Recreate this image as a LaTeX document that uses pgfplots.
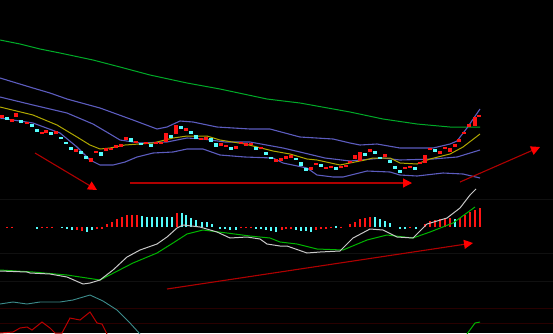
\documentclass[border=0pt]{standalone}
\usepackage{pgfplots}
\pgfplotsset{compat=1.18}
\usepackage{pgfplotstable}
\usetikzlibrary{arrows.meta}

\definecolor{magreen}{RGB}{0,170,40}
\definecolor{band}{RGB}{92,92,190}
\definecolor{mayel}{RGB}{176,168,0}
\definecolor{cred}{RGB}{255,20,20}
\definecolor{ccyan}{RGB}{84,252,252}
\definecolor{difw}{RGB}{200,200,200}
\definecolor{deag}{RGB}{0,180,0}
\definecolor{teal2}{RGB}{60,140,140}
\definecolor{lowred}{RGB}{185,0,0}
\definecolor{arrline}{RGB}{175,0,0}
\definecolor{gridg}{RGB}{16,16,16}
\definecolor{gridr}{RGB}{40,0,0}

% candles: x, top, bottom (pixel rows)
\pgfplotstableread{
x t b
2 115 118
12 119 122
16 113 117
27 122 124
42 132 134
46 130 133
56 131 134
76 149 152
91 158 162
96 151 153
106 148 151
111 148 150
116 145 148
121 144 147
126 137 140
136 141 143
146 142 144
156 142 144
161 142 144
166 133 142
176 125 134
186 128 131
201 138 140
206 137 140
221 143 146
226 145 147
236 146 149
241 142 144
246 143 146
251 143 145
261 147 149
276 159 162
281 158 161
286 156 159
291 155 158
311 167 170
316 163 165
326 167 169
331 166 168
341 166 168
346 165 167
350 160.5 162.5
355 155 159
360 152 161
370 149 152
385 154 157
405 167 169
410 166 168
420 162 164
425 155 163
430 148 150
440 151 154
445 147 149
450 148 152
455 144 147
459 139 142
464 132 134
469 124 127
475 117 126
479 115 117
}\redcandles

\pgfplotstableread{
x t b
7 117 120
21 120 123
32 124 127
37 129 132
51 132 135
61 137 139
66 142 144
71 147 150
81 151 154
86 156 159
101 152 156
131 138 142
141 143 145
151 144 147
171 135 138
181 126 129
191 131 134
196 135 139
211 138 142
216 143 147
231 147 150
256 147 150
266 152 155
271 157 159
296 158 160
301 162 166
306 168 171
321 164 167
336 167 170
365 153 156
375 151 154
380 157 159
390 160 163
395 166 169
400 170 173
415 167 170
435 149 152
}\cyancandles

% MACD histogram: x, top, bottom
\pgfplotstableread{
x t b
7 226.5 228
12 226.5 228
42 226.5 228
47 226.5 228
52 226.5 228
77 227 230
82 227 231
97 227 228.5
102 227 228.5
107 224 227
112 222 227
117 219 227
122 217 227
127 215 227
132 215 227
137 215 227
177 213 227
241 226.5 228
246 226.5 228
251 226.5 228
282 227 230
286 227 229
291 227 228.5
316 227 230
321 227 229
326 227 228.5
331 226.5 228
341 226.5 228
350 224 227
355 222 227
360 219 227
365 218 227
370 217 227
410 226.5 228
425 224 227
430 221 227
435 220 227
440 219 227
445 219 227
450 218 227
460 218 227
465 215 227
470 212 227
475 210 227
480 208 227
}\redbars

\pgfplotstableread{
x t b
37 227 228.5
62 226.5 228
67 227 229
72 227 230
87 227 232
92 227 230
142 216 227
147 217 227
152 217 227
157 217 227
162 217 227
167 217 227
172 217 227
182 213 227
186 215 227
191 218 227
196 220 227
202 222 227
207 222 227
212 224 227
220 227 228.5
225 227 229
230 227 230
236 227 230
256 227 229
261 227 229
266 227 230
271 227 231
276 227 232
296 227 230
301 227 231
306 227 231
311 227 232
336 226 227.5
375 217 227
380 219 227
385 221 227
390 223 227
400 227 228.5
405 227 228.5
416 227 228.5
455 219 227
}\cyanbars

\begin{document}
\begin{tikzpicture}
\begin{axis}[
  scale only axis, width=553pt, height=333pt,
  xmin=0, xmax=553, ymin=0, ymax=333, y dir=reverse,
  axis line style={draw=none}, ticks=none,
  axis background/.style={fill=black},
  clip=true,
]
% faint grid lines
\addplot[gridg, line width=0.8pt] coordinates {(0,199)(553,199)};
\addplot[gridg, line width=0.8pt] coordinates {(0,253)(553,253)};
\addplot[gridg, line width=0.8pt] coordinates {(0,281)(553,281)};
\addplot[gridr, line width=0.8pt] coordinates {(0,308)(553,308)};
\addplot[gridr, line width=0.8pt] coordinates {(0,323)(553,323)};

% long MA (green)
\addplot[magreen, line width=1pt] coordinates {
(0,40)(20,44)(40,49)(60,53)(93,60)(120,67)(150,75)(187,83)(220,89)(267,99)
(300,103)(350,112)(383,119)(417,124)(450,127)(480,127)};

% Bollinger bands
\addplot[band, line width=1.1pt] coordinates {
(0,78)(33,88)(50,93)(67,99)(100,108)(133,120)(157,129)(167,127)(180,121)(193,122)
(217,127)(250,129)(270,129)(300,137)(333,139)(350,143)(360,145)(377,144)(400,148)
(433,148)(450,144)(457,141)(467,128)(480,109)};
\addplot[band, line width=1.1pt] coordinates {
(0,97)(33,105)(67,113)(93,124)(110,134)(120,140)(140,143)(167,142)(187,138)(203,139)
(225,142)(250,142)(283,148)(300,152)(325,158)(350,161)(383,158)(400,160)(433,159)
(457,157)(480,150)};
\addplot[band, line width=1.1pt] coordinates {
(0,118)(33,123)(60,133)(77,147)(90,160)(100,165)(113,165)(125,162)(137,157)(153,153)
(173,152)(187,149)(203,149)(220,155)(245,157)(273,158)(283,163)(307,168)(317,175)
(333,177)(343,177)(367,171)(390,172)(400,175)(417,176)(443,173)(463,174)(480,178)};

% short MA (yellow)
\addplot[mayel, line width=1pt] coordinates {
(0,107)(33,115)(57,125)(77,137)(90,145)(100,149)(110,148)(125,145)(153,143)(173,138)
(187,136)(207,136)(220,140)(245,144)(273,151)(290,154)(307,159)(317,160)(340,165)
(350,163)(365,160)(373,158)(390,158)(400,163)(417,164)(430,159)(450,154)(463,147)(480,134)};

% candles (vertical segments from top to bottom row)
\addplot[cred, line width=4pt, line cap=butt, quiver={u=0, v=\thisrow{b}-\thisrow{t}}]
  table[x=x, y=t] {\redcandles};
\addplot[ccyan, line width=4pt, line cap=butt, quiver={u=0, v=\thisrow{b}-\thisrow{t}}]
  table[x=x, y=t] {\cyancandles};

% MACD histogram
\addplot[cred, line width=2pt, line cap=butt, quiver={u=0, v=\thisrow{b}-\thisrow{t}}]
  table[x=x, y=t] {\redbars};
\addplot[ccyan, line width=2pt, line cap=butt, quiver={u=0, v=\thisrow{b}-\thisrow{t}}]
  table[x=x, y=t] {\cyanbars};

% MACD DEA (green) and DIF (grey-white)
\addplot[deag, line width=1pt] coordinates {
(0,270)(33,272)(67,275)(100,280)(133,263)(157,253)(173,243)(187,234)(203,230)(227,233)
(250,236)(270,238)(280,242)(297,244)(317,249)(343,250)(367,240)(387,235)(413,238)
(430,232)(453,223)(475,207)};
\addplot[difw, line width=1pt] coordinates {
(0,271)(27,272)(30,273)(50,274)(67,277)(83,284)(90,283)(100,280)(113,270)(127,257)
(140,250)(157,244)(167,237)(177,228)(183,225)(200,227)(217,232)(230,238)(247,237)
(260,239)(267,244)(280,246)(287,246)(307,253)(320,252)(340,251)(353,238)(370,229)
(383,230)(397,237)(413,238)(427,224)(447,218)(460,208)(470,195)(476,189)};

% bottom indicator
\addplot[teal2, line width=0.9pt] coordinates {
(0,304)(13,302)(27,304)(40,302)(60,302)(73,300)(90,295)(103,301)(117,310)(130,323)(140,334)};
\addplot[lowred, line width=1pt] coordinates {
(0,333)(13,332)(20,328)(27,327)(32,330)(42,322)(50,328)(55,333)(62,333)(70,318)
(80,320)(90,312)(97,323)(102,324)(107,334)};
\addplot[deag, line width=1pt] coordinates {(467,334)(475,323)(480,322)};

% arrows
\addplot[arrline, line width=1.1pt, -{Triangle[length=9pt,width=9pt,color=red]}] coordinates {(35,153)(97,190)};
\addplot[arrline, line width=1.1pt, -{Triangle[length=9pt,width=9pt,color=red]}] coordinates {(130,183)(412,183)};
\addplot[arrline, line width=1.1pt, -{Triangle[length=9pt,width=9pt,color=red]}] coordinates {(460,182)(540,147)};
\addplot[arrline, line width=1.1pt, -{Triangle[length=9pt,width=9pt,color=red]}] coordinates {(167,289)(473,243)};
\end{axis}
\end{tikzpicture}
\end{document}
